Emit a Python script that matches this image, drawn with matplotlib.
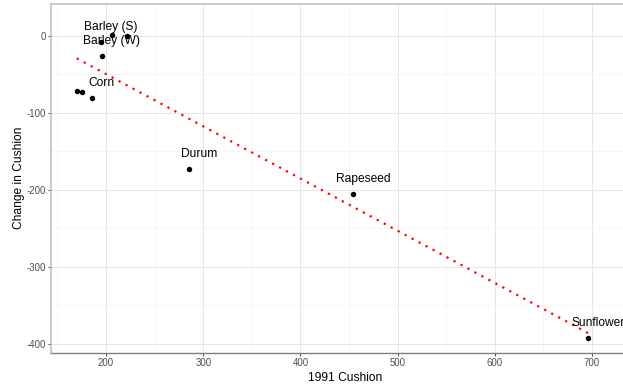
import numpy as np
import matplotlib
matplotlib.use("Agg")
import matplotlib.pyplot as plt
from matplotlib.ticker import MultipleLocator

plt.rcParams['font.family'] = ['Liberation Sans', 'DejaVu Sans']
plt.rcParams['axes.unicode_minus'] = False

# 1991 cushion vs. change in cushion, by crop
cushion_1991 = [206.5, 221.9, 194.5, 195.6, 169.9, 175.6, 185.3, 285.4, 454.4, 696.2]
change = [1.3, 0.0, -8.2, -25.6, -71.0, -73.1, -80.5, -172.7, -205.6, -391.8]
labels = ["", "", "Barley (S)", "Barley (W)", "", "", "Corn", "Durum", "Rapeseed", "Sunflower"]

x_ticks = [200, 300, 400, 500, 600, 700]
y_ticks = [-400, -300, -200, -100, 0]

W, H = 623, 387
fig = plt.figure(figsize=(W / 72, H / 72), dpi=72)
fig.patch.set_facecolor("white")
# panel runs past the right edge of the canvas
left_px, right_px, top_px, bottom_px = 51, 640, 3.5, 353
ax = fig.add_axes([left_px / W, 1 - bottom_px / H,
                   (right_px - left_px) / W, (bottom_px - top_px) / H])

ax.set_xlim(143.4, 749.4)
ax.set_ylim(-411.7, 42.2)

ax.set_xticks(x_ticks)
ax.set_yticks(y_ticks)
ax.xaxis.set_minor_locator(MultipleLocator(50))
ax.yaxis.set_minor_locator(MultipleLocator(50))
ax.grid(which="major", color="#E6E6E6", linewidth=1.0, zorder=0)
ax.grid(which="minor", color="#F0F0F0", linewidth=0.6, zorder=0)
ax.set_axisbelow(True)

ax.tick_params(which="major", length=3, width=1, color="#4D4D4D",
               labelsize=9.6, labelcolor="#4D4D4D", pad=2)
ax.tick_params(which="minor", length=0)

for side in ["left", "top", "right"]:
    ax.spines[side].set_color("#BFBFBF")
    ax.spines[side].set_linewidth(1.6)
ax.spines["bottom"].set_color("#7F7F7F")
ax.spines["bottom"].set_linewidth(1.4)

# least-squares trend line across the observed range
xs = np.array(cushion_1991)
ys = np.array(change)
slope, intercept = np.polyfit(xs, ys, 1)
xl = np.array([xs.min(), xs.max()])
ax.plot(xl, intercept + slope * xl, color="red", linewidth=2.2,
        linestyle=(0, (1, 2.6)), zorder=2)

ax.scatter(cushion_1991, change, s=30, color="black", zorder=3, linewidths=0)

nudge_x, nudge_y = 10.5, 19.5
for x, y, lab in zip(cushion_1991, change, labels):
    if lab:
        ax.text(x + nudge_x, y + nudge_y, lab, fontsize=12, color="black",
                ha="center", va="center", zorder=4)

ax.set_xlabel("1991 Cushion", fontsize=12, labelpad=4)
ax.set_ylabel("Change in Cushion", fontsize=12, labelpad=2)

fig.savefig("out.png", dpi=72)
